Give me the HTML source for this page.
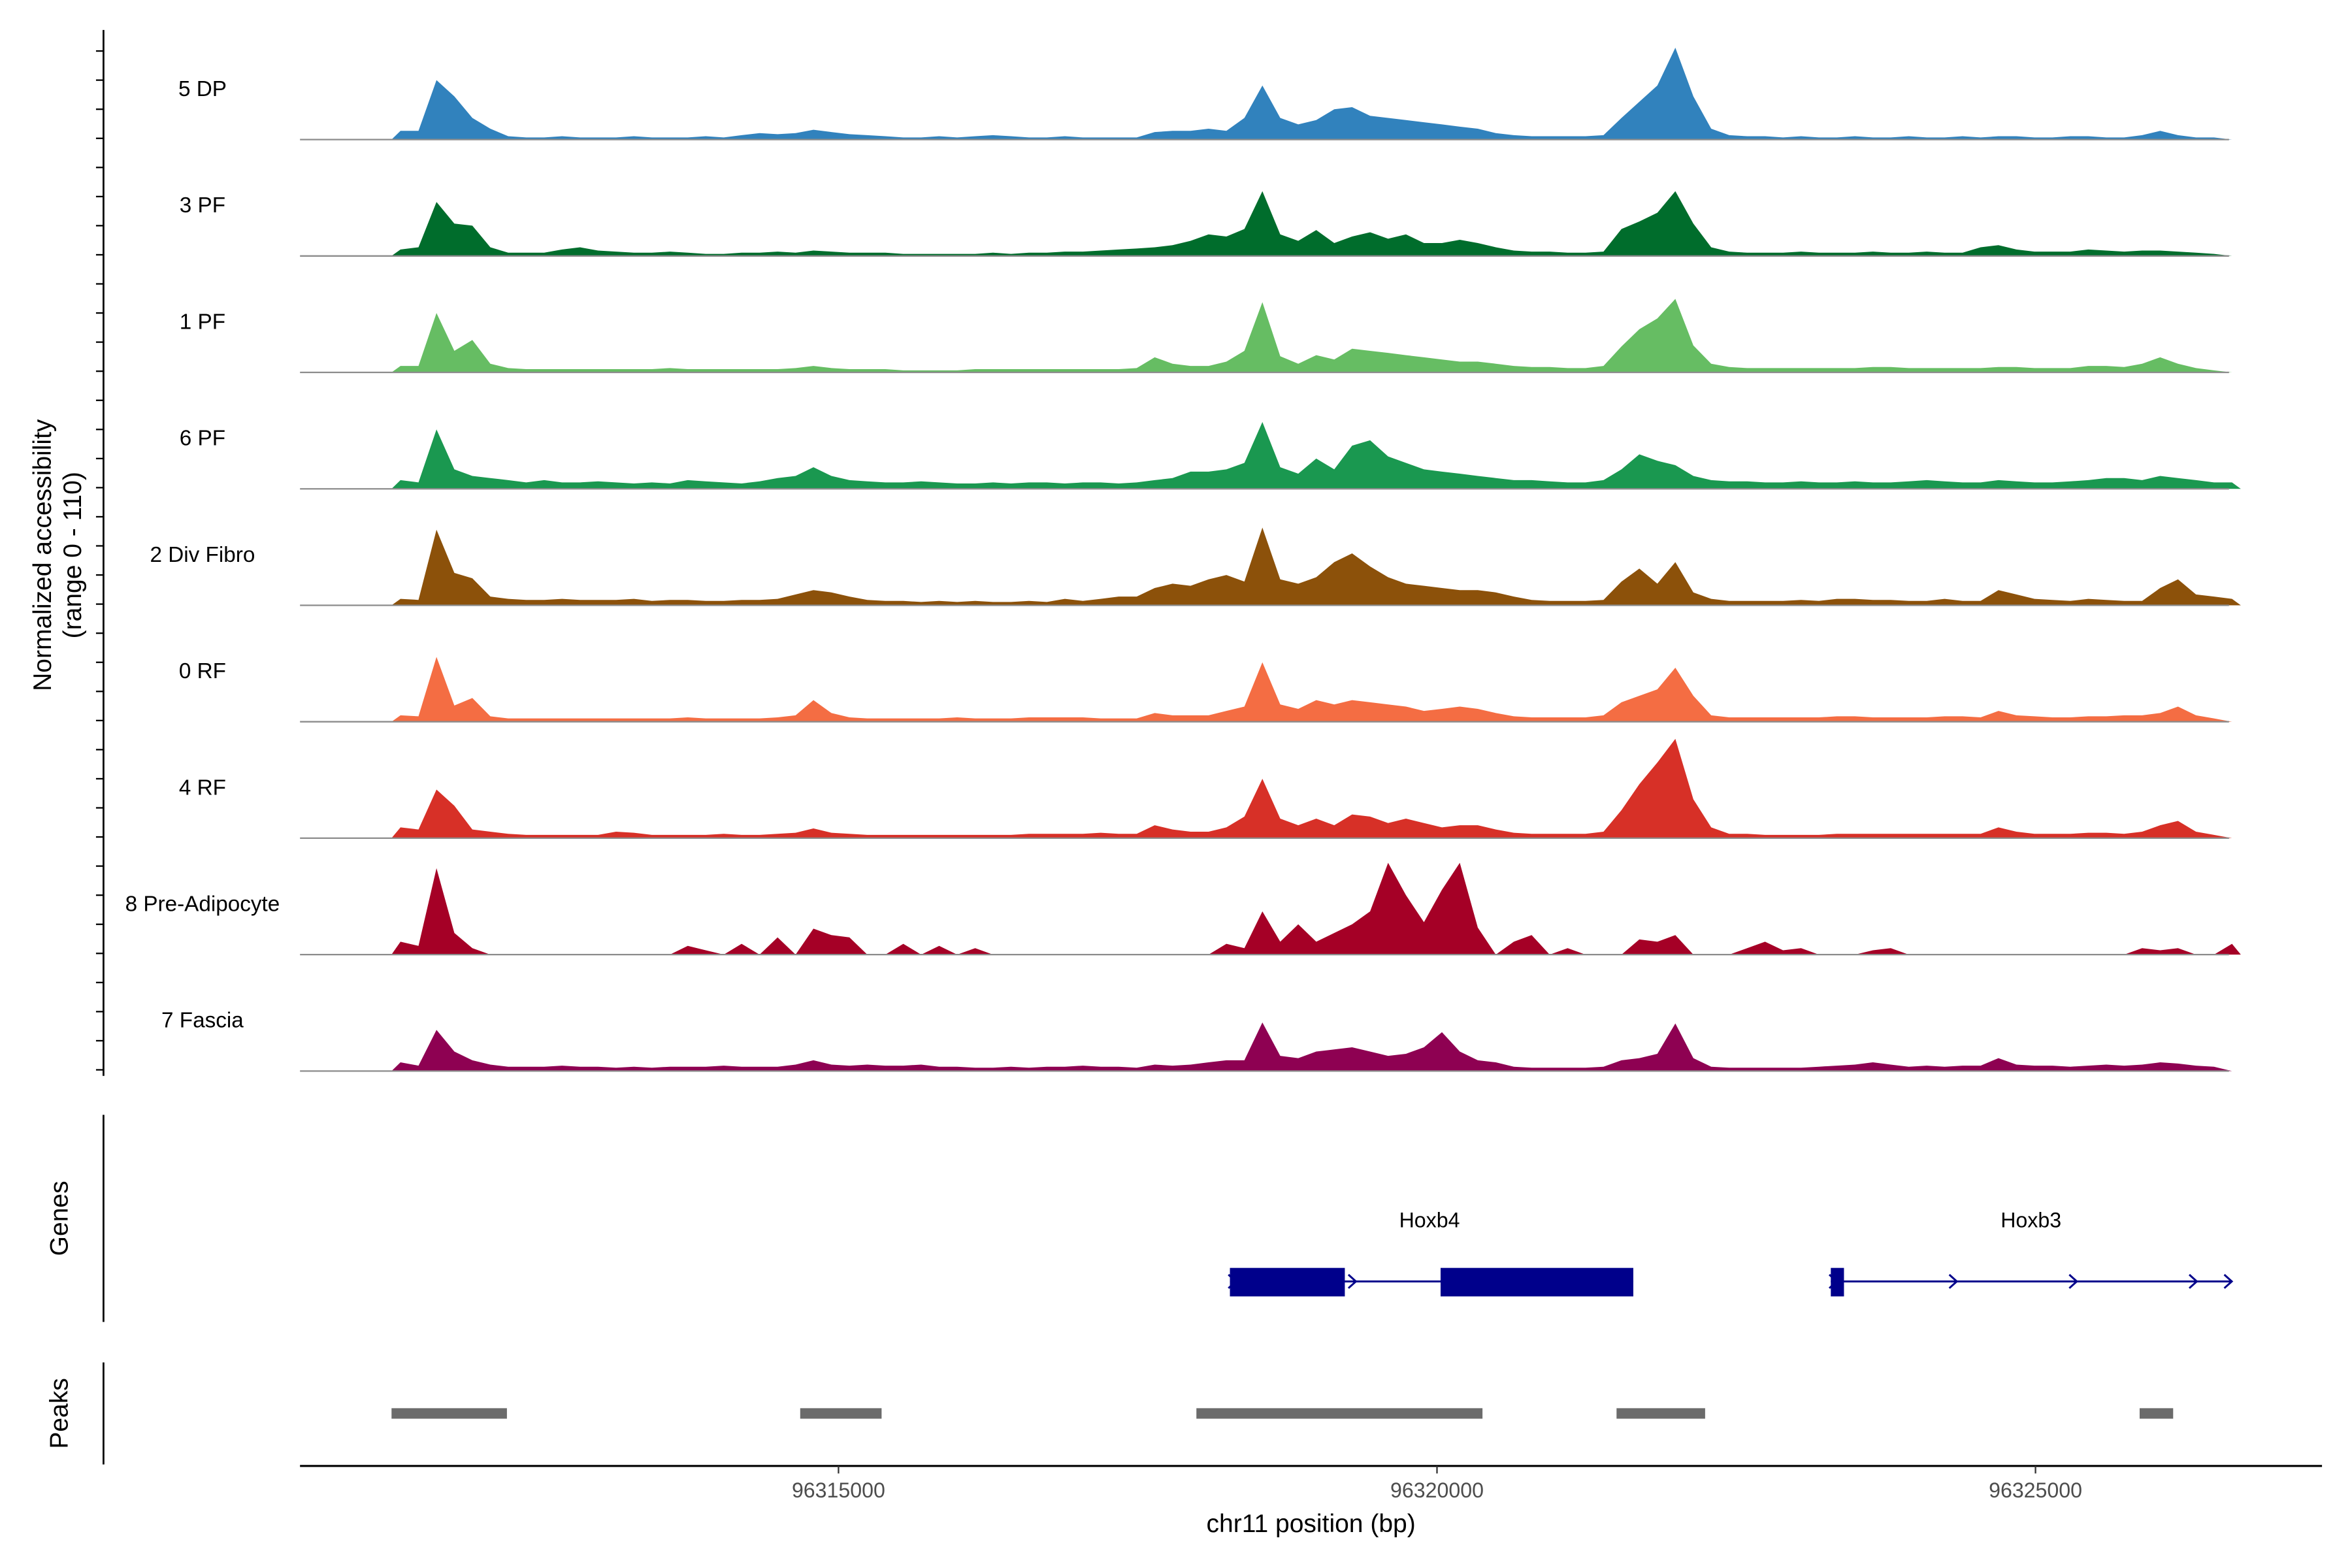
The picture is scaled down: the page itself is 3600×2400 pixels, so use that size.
<!DOCTYPE html>
<html><head><meta charset="utf-8">
<style>
html,body{margin:0;padding:0;background:#fff;}
svg{display:block;font-family:"Liberation Sans",Arial,sans-serif;}
</style></head>
<body>
<svg id="chart" width="3600" height="2400" viewBox="0 0 1568 1045" preserveAspectRatio="none" xmlns="http://www.w3.org/2000/svg">
<rect x="0" y="0" width="1568" height="1045" fill="#fff"/>
<g id="tracks"></g>
<line x1="69" y1="20" x2="69" y2="717" stroke="#000" stroke-width="1.2"/>
<g id="yticks"></g>
<text transform="translate(34,370) rotate(-90)" text-anchor="middle" font-size="17">Normalized accessibility</text>
<text transform="translate(54,370) rotate(-90)" text-anchor="middle" font-size="17">(range 0 - 110)</text>

<line x1="69" y1="743" x2="69" y2="881" stroke="#000" stroke-width="1.2"/>
<text transform="translate(45,812) rotate(-90)" text-anchor="middle" font-size="17">Genes</text>
<g id="genes"></g>

<line x1="69" y1="908" x2="69" y2="976" stroke="#000" stroke-width="1.2"/>
<text transform="translate(45,942) rotate(-90)" text-anchor="middle" font-size="17">Peaks</text>
<g id="peaks"></g>

<line x1="200" y1="977" x2="1548" y2="977" stroke="#000" stroke-width="1.4"/>
<g id="xticks"></g>
<text x="874" y="1021" text-anchor="middle" font-size="17">chr11 position (bp)</text>
</svg>
<script>
const NS="http://www.w3.org/2000/svg";
const trackNames=["5 DP","3 PF","1 PF","6 PF","2 Div Fibro","0 RF","4 RF","8 Pre-Adipocyte","7 Fascia"];
const trackColors=["#3182bd","#006d2c","#66bd63","#1a9850","#8c510a","#f46d43","#d73027","#a50026","#8e0152"];
const binStart=96311266;
const binSize=150;
const xTicks=[96315000,96320000,96325000];
const dp5=[8,8,55,40,20,10,3,2,2,3, 2,2,2,3,2,2,2,3,2,4, 6,5,6,9,7,5,4,3,2,2, 3,2,3,4,3,2,2,3,2,2, 2,2,7,8,8,10,8,20,50,20, 14,18,28,30,22,20,18,16,14,12, 10,6,4,3,3,3,3,4,20,35, 50,85,40,10,4,3,3,2,3,2, 2,3,2,2,3,2,2,3,2,3, 3,2,2,3,3,2,2,4,8,4, 2,2,0];
const pf3=[6,8,50,30,28,8,3,3,3,6, 8,5,4,3,3,4,3,2,2,3, 3,4,3,5,4,3,3,3,2,2, 2,2,2,3,2,3,3,4,4,5, 6,7,8,10,14,20,18,25,60,20, 14,24,12,18,22,16,20,12,12,15, 12,8,5,4,4,3,3,4,25,32, 40,60,30,8,4,3,3,3,4,3, 3,3,4,3,3,4,3,3,8,10, 6,4,4,4,6,5,4,5,5,4, 3,2,0];
const pf1=[6,6,55,20,30,8,4,3,3,3, 3,3,3,3,3,4,3,3,3,3, 3,3,4,6,4,3,3,3,2,2, 2,2,3,3,3,3,3,3,3,3, 3,4,14,8,6,6,10,20,65,15, 8,16,12,22,20,18,16,14,12,10, 10,8,6,5,5,4,4,6,24,40, 50,68,25,8,5,4,4,4,4,4, 4,4,5,5,4,4,4,4,4,5, 5,4,4,4,6,6,5,8,14,8, 4,2,0];
const pf6=[8,6,55,18,12,10,8,6,8,6, 6,7,6,5,6,5,8,7,6,5, 7,10,12,20,12,8,7,6,6,7, 6,5,5,6,5,6,6,5,6,6, 5,6,8,10,16,16,18,24,62,20, 14,28,18,40,45,30,24,18,16,14, 12,10,8,8,7,6,6,8,18,32, 26,22,12,8,7,7,6,6,7,6, 6,7,6,6,7,8,7,6,6,8, 7,6,6,7,8,10,10,8,12,10, 8,6,6];
const divFibro2=[6,5,70,30,25,8,6,5,5,6, 5,5,5,6,4,5,5,4,4,5, 5,6,10,14,12,8,5,4,4,3, 4,3,4,3,3,4,3,6,4,6, 8,8,16,20,18,24,28,22,72,24, 20,26,40,48,36,26,20,18,16,14, 14,12,8,5,4,4,4,5,22,34, 20,40,12,6,4,4,4,4,5,4, 6,6,5,5,4,4,6,4,4,14, 10,6,5,4,6,5,4,4,16,24, 10,8,6];
const rf0=[6,5,60,15,22,5,3,3,3,3, 3,3,3,3,3,3,4,3,3,3, 3,4,6,20,8,4,3,3,3,3, 3,4,3,3,3,4,4,4,4,3, 3,3,8,6,6,6,10,14,55,16, 12,20,16,20,18,16,14,10,12,14, 12,8,5,4,4,4,4,6,18,24, 30,50,24,6,4,4,4,4,4,4, 5,5,4,4,4,4,5,5,4,10, 6,5,4,4,5,5,6,6,8,14, 6,3,0];
const rf4=[10,8,45,30,8,6,4,3,3,3, 3,3,6,5,3,3,3,3,4,3, 3,4,5,9,5,4,3,3,3,3, 3,3,3,3,3,4,4,4,4,5, 4,4,12,8,6,6,10,20,55,18, 12,18,12,22,20,14,18,14,10,12, 12,8,5,4,4,4,4,6,26,50, 70,92,36,10,4,4,3,3,3,3, 4,4,4,4,4,4,4,4,4,10, 6,4,4,4,5,5,4,6,12,16, 6,3,0];
const preAdipo8=[12,8,80,20,6,0,0,0,0,0, 0,0,0,0,0,0,8,4,0,10, 0,16,0,24,18,16,0,0,10,0, 8,0,6,0,0,0,0,0,0,0, 0,0,0,0,0,0,10,6,40,12, 28,12,20,28,40,85,55,30,60,85, 25,0,12,18,0,6,0,0,0,14, 12,18,0,0,0,6,12,4,6,0, 0,0,4,6,0,0,0,0,0,0, 0,0,0,0,0,0,0,6,4,6, 0,0,10];
const fascia7=[8,5,38,18,10,6,4,4,4,5, 4,4,3,4,3,4,4,4,5,4, 4,4,6,10,6,5,6,5,5,6, 4,4,3,3,4,3,4,4,5,4, 4,3,6,5,6,8,10,10,45,14, 12,18,20,22,18,14,16,22,36,18, 10,8,4,3,3,3,3,4,10,12, 16,44,12,4,3,3,3,3,3,4, 5,6,8,6,4,5,4,5,5,12, 6,5,5,4,5,6,5,6,8,7, 5,4,0];
const trackValues=[dp5,pf3,pf1,pf6,divFibro2,rf0,rf4,preAdipo8,fascia7];
const geneNames=["Hoxb4","Hoxb3"];
const geneStarts=[96318270,96323290];
const geneEnds=[96321640,96326640];
const exonStarts=[96318270,96320030,96323290];
const exonEnds=[96319230,96321640,96323400];
const peakStarts=[96311266,96314680,96317990,96321500,96325870];
const peakEnds=[96312230,96315360,96320380,96322240,96326150];

const x=bp=>559+(bp-96315000)*(399/5000);
const baseY=i=>93+i*77.6;
const yScale=v=>v*0.72;
function mk(tag,attrs,parent){const e=document.createElementNS(NS,tag);for(const k in attrs)e.setAttribute(k,attrs[k]);parent.appendChild(e);return e;}

const tg=document.getElementById('tracks');
trackValues.forEach((vals,i)=>{
  const b=baseY(i);
  const g=mk('g',{},tg);
  
  
  let d='M'+x(binStart).toFixed(1)+','+b;
  vals.forEach((v,k)=>{const cx=x(binStart+(k+0.5)*binSize);d+=' L'+cx.toFixed(1)+','+(b-yScale(v)).toFixed(1);});
  d+=' L'+x(binStart+vals.length*binSize).toFixed(1)+','+b+' Z';
  const p=mk('path',{d:d,fill:trackColors[i],stroke:'none'},g);
  
  
  const l=mk('line',{x1:200,y1:b,x2:1486,y2:b,stroke:'#8c8c8c','stroke-width':1},g);
  
  
  const t=mk('text',{x:135,y:b-29,'text-anchor':'middle','font-size':14.5},g);
  t.textContent=trackNames[i];
  
  
});

const yt=document.getElementById('yticks');
for(let y=34;y<=714;y+=19.4){
  const l=mk('line',{x1:64,y1:y.toFixed(1),x2:69,y2:y.toFixed(1),stroke:'#000','stroke-width':1},yt);
  
  
}

const xt=document.getElementById('xticks');
xTicks.forEach(v=>{
  const l=mk('line',{x1:x(v),y1:977,x2:x(v),y2:982,stroke:'#333','stroke-width':1},xt);
  
  
  const t=mk('text',{x:x(v),y:998,'text-anchor':'middle','font-size':14,fill:'#4d4d4d'},xt);
  t.textContent=String(v);
  
  
});

const gg=document.getElementById('genes');
const gy=854, col='#00008b';
geneNames.forEach((n,i)=>{
  const l=mk('line',{x1:x(geneStarts[i]),y1:gy,x2:x(geneEnds[i]),y2:gy,stroke:col,'stroke-width':1.3},gg);
  
  
  const x0=x(geneStarts[i]),x1=x(geneEnds[i]);
  const t=mk('text',{x:(i===0?953:1354),y:818,'text-anchor':'middle','font-size':14},gg);
  t.textContent=n;
  
  
  const step=80;
  for(let ax=x0+2;ax<=x1-10;ax+=step){
    const c=mk('polyline',{points:(ax-3)+','+(gy-4.5)+' '+(ax+2)+','+gy+' '+(ax-3)+','+(gy+4.5),fill:'none',stroke:col,'stroke-width':1.3},gg);
    
    
  }
  if(i>0){
    const c=mk('polyline',{points:(x1-5)+','+(gy-4.5)+' '+x1+','+gy+' '+(x1-5)+','+(gy+4.5),fill:'none',stroke:col,'stroke-width':1.3},gg);
    
    
  }
});
exonStarts.forEach((s,i)=>{
  const r=mk('rect',{x:x(s),y:845,width:x(exonEnds[i])-x(s),height:19,fill:col},gg);
  
  
});

const pg=document.getElementById('peaks');
peakStarts.forEach((s,i)=>{
  const r=mk('rect',{x:x(s),y:938.5,width:x(peakEnds[i])-x(s),height:7,fill:'#6b6b6b'},pg);
  
  
});
</script>
</body></html>
